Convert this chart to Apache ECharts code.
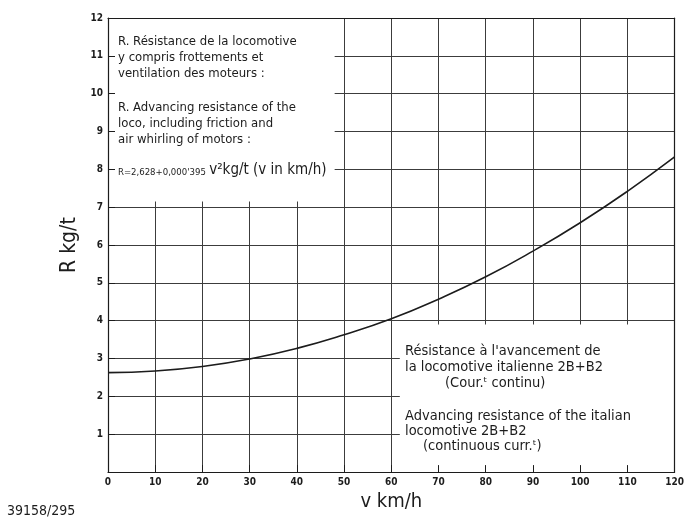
<!DOCTYPE html>
<html><head><meta charset="utf-8">
<script src="https://cdn.jsdelivr.net/npm/echarts@6/dist/echarts.min.js"></script>
<style>html,body{margin:0;padding:0;background:#fff}#c{width:687px;height:517px}</style>
</head><body><div id="c"></div>
<script>
// Data
const speeds = [0, 10, 20, 30, 40, 50, 60, 70, 80, 90, 100, 110, 120];
const resistance = [2.63, 2.67, 2.79, 2.99, 3.27, 3.63, 4.05, 4.57, 5.16, 5.84, 6.59, 7.42, 8.33];
const xTicks = [0, 10, 20, 30, 40, 50, 60, 70, 80, 90, 100, 110, 120];
const yTicks = [0, 1, 2, 3, 4, 5, 6, 7, 8, 9, 10, 11, 12];

// Annotation box extents (data units)
const boxTopLeft = [[0, 7.15], [48, 12]];
const boxBottomRight = [[61.8, 0], [120, 3.9]];

const FONT = '"DejaVu Sans Condensed", "DejaVu Sans", sans-serif';
const INK = '#1c1c1c';
const GRID = '#3c3c3c';

const chart = echarts.init(document.getElementById('c'), null, {renderer: 'canvas'});

const xBase = {type: 'value', min: xTicks[0], max: xTicks[xTicks.length - 1], interval: 10};
const yBase = {type: 'value', min: yTicks[0], max: yTicks[yTicks.length - 1], interval: 1};

const option = {
  backgroundColor: '#fff',
  animation: false,
  grid: {left: 108, right: 8, top: 18, bottom: 42, containLabel: false},
  xAxis: [
    Object.assign({}, xBase, {position: 'bottom', z: 0,
      axisLine: {show: false}, axisTick: {show: false}, axisLabel: {show: false},
      splitLine: {show: true, lineStyle: {color: GRID, width: 1}}}),
    Object.assign({}, xBase, {position: 'bottom', z: 5,
      axisLine: {show: true, onZero: false, lineStyle: {color: INK, width: 1.2}},
      axisTick: {show: true, inside: true, length: 7, lineStyle: {color: INK}},
      axisLabel: {show: true, color: INK, fontFamily: FONT, fontSize: 10, fontWeight: 'bold', margin: 5},
      splitLine: {show: false},
      name: 'v km/h', nameLocation: 'middle', nameGap: 17,
      nameTextStyle: {color: INK, fontFamily: FONT, fontSize: 20}}),
    Object.assign({}, xBase, {position: 'top', z: 5,
      axisLine: {show: true, onZero: false, lineStyle: {color: INK, width: 1.2}},
      axisTick: {show: false}, axisLabel: {show: false}, splitLine: {show: false}})
  ],
  yAxis: [
    Object.assign({}, yBase, {position: 'left', z: 0,
      axisLine: {show: false}, axisTick: {show: false}, axisLabel: {show: false},
      splitLine: {show: true, lineStyle: {color: GRID, width: 1}}}),
    Object.assign({}, yBase, {position: 'left', z: 5,
      axisLine: {show: true, onZero: false, lineStyle: {color: INK, width: 1.2}},
      axisTick: {show: true, inside: true, length: 7, lineStyle: {color: INK}},
      axisLabel: {show: true, color: INK, fontFamily: FONT, fontSize: 10, fontWeight: 'bold', margin: 5,
        formatter: v => (v === 0 ? '' : String(v))},
      splitLine: {show: false},
      name: 'R kg/t', nameLocation: 'middle', nameGap: 17, nameRotate: 90,
      nameTextStyle: {color: INK, fontFamily: FONT, fontSize: 21}}),
    Object.assign({}, yBase, {position: 'right', z: 5,
      axisLine: {show: true, onZero: false, lineStyle: {color: INK, width: 1.2}},
      axisTick: {show: false}, axisLabel: {show: false}, splitLine: {show: false}})
  ],
  series: [{
    type: 'line',
    xAxisIndex: 0, yAxisIndex: 0,
    data: speeds.map((v, i) => [v, resistance[i]]),
    smooth: 0.5,
    showSymbol: false,
    lineStyle: {color: INK, width: 1.6},
    z: 2,
    markArea: {
      silent: true,
      itemStyle: {color: '#fff', opacity: 1},
      data: [
        [{coord: boxTopLeft[0]}, {coord: boxTopLeft[1]}],
        [{coord: boxBottomRight[0]}, {coord: boxBottomRight[1]}]
      ]
    }
  }],
  graphic: [
    {type: 'text', left: 118, top: 34, z: 10, style: {
      text: 'R. Résistance de la locomotive\ny compris frottements et\nventilation des moteurs :',
      font: '13px ' + FONT, fill: INK, lineHeight: 16}},
    {type: 'text', left: 118, top: 100, z: 10, style: {
      text: 'R. Advancing resistance of the\nloco, including friction and\nair whirling of motors :',
      font: '13px ' + FONT, fill: INK, lineHeight: 16}},
    {type: 'text', left: 118, top: 163, z: 10, style: {
      text: '{s|R=2,628+0,000\'395} {b|v²kg/t (v in km/h)}',
      rich: {
        s: {fontSize: 9.5, fontFamily: FONT, fill: INK, verticalAlign: 'bottom'},
        b: {fontSize: 15, fontFamily: FONT, fill: INK}
      }}},
    {type: 'text', left: 405, top: 343, z: 10, style: {
      text: 'Résistance à l\'avancement de\nla locomotive italienne 2B+B2',
      font: '14.5px ' + FONT, fill: INK, lineHeight: 16}},
    {type: 'text', left: 445, top: 376, z: 10, style: {
      text: '(Cour.ᵗ continu)', font: '14.5px ' + FONT, fill: INK}},
    {type: 'text', left: 405, top: 409, z: 10, style: {
      text: 'Advancing resistance of the italian\nlocomotive 2B+B2',
      font: '14.5px ' + FONT, fill: INK, lineHeight: 15}},
    {type: 'text', left: 423, top: 439, z: 10, style: {
      text: '(continuous curr.ᵗ)', font: '14.5px ' + FONT, fill: INK}},
    {type: 'text', left: 7, top: 504, z: 10, style: {
      text: '39158/295', font: '14px ' + FONT, fill: INK}}
  ]
};
chart.setOption(option);
</script>
</body></html>
